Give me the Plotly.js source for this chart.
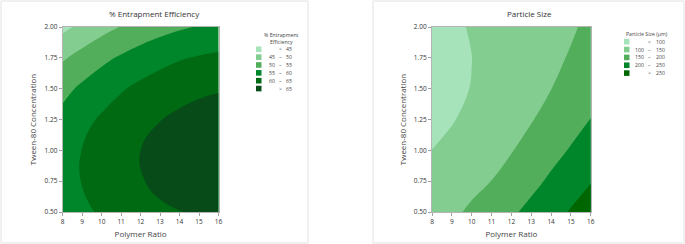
<!DOCTYPE html>
<html>
<head>
<meta charset="utf-8">
<script src="https://cdn.plot.ly/plotly-3.0.1.min.js"></script>
<style>
html,body{margin:0;padding:0;background:#fff;}
#chart{width:685px;height:244px;}
</style>
</head>
<body>
<div id="chart"></div>
<script>
// ---- data ----
const polymerRatio = [8, 9, 10, 11, 12, 13, 14, 15, 16];
const tween80Conc = [0.5, 0.75, 1.0, 1.25, 1.5, 1.75, 2.0];

// % Entrapment Efficiency, rows = tween80Conc, cols = polymerRatio
const entrapmentEfficiency = [
  [56.9, 58.9, 60.7, 62.2, 63.4, 64.3, 64.9, 65.3, 65.5],
  [58.1, 60.2, 62.0, 63.6, 64.7, 66.0, 66.8, 67.4, 67.7],
  [58.0, 60.1, 62.0, 63.6, 65.0, 66.1, 67.0, 67.6, 68.0],
  [56.5, 58.7, 60.6, 62.3, 63.7, 64.9, 65.9, 66.6, 67.0],
  [53.6, 55.9, 57.9, 59.6, 61.1, 62.4, 63.4, 64.2, 64.7],
  [49.4, 51.7, 53.8, 55.6, 57.2, 58.5, 59.6, 60.4, 61.0],
  [43.8, 46.2, 48.4, 50.2, 51.9, 53.3, 54.4, 55.3, 55.9]
];

// Particle Size (µm), rows = tween80Conc, cols = polymerRatio
const particleSize = [
  [126.0, 141.2, 157.4, 174.7, 193.0, 212.3, 232.6, 253.9, 276.2],
  [111.2, 124.7, 138.0, 150.5, 168.0, 188.0, 207.3, 226.9, 247.5],
  [100.2, 111.7, 123.5, 135.5, 148.0, 165.5, 185.7, 203.5, 222.4],
  [ 92.4,  97.0, 112.0, 124.5, 136.0, 147.5, 165.5, 183.7, 200.9],
  [ 88.4,  96.6, 100.5, 114.0, 125.5, 137.5, 149.5, 167.5, 182.9],
  [ 88.0,  94.5,  99.8, 110.0, 120.0, 130.5, 142.0, 153.0, 168.5],
  [ 91.1,  95.9, 101.7, 108.5, 116.3, 125.1, 135.0, 145.8, 157.7]
];

const eeLevels = [45, 50, 55, 60, 65];
const psLevels = [100, 150, 200, 250];
const eeColors = ['#a6e3bb', '#82cd8f', '#52ae5b', '#00862a', '#006a12', '#064b18'];
const psColors = ['#a6e3bb', '#82cd8f', '#52ae5b', '#00862a', '#006600'];

const xTickVals = [8, 9, 10, 11, 12, 13, 14, 15, 16];
const yTickVals = [0.5, 0.75, 1.0, 1.25, 1.5, 1.75, 2.0];
const yTickText = ['0.50', '0.75', '1.00', '1.25', '1.50', '1.75', '2.00'];

const eeTitle = '% Entrapment Efficiency';
const psTitle = 'Particle Size';
const eeLegendTitle = ['% Entrapment', 'Efficiency'];
const psLegendTitle = ['Particle Size (µm)'];
const xTitle = 'Polymer Ratio';
const yTitle = 'Tween-80 Concentration';

// ---- layout helpers ----
const W = 685, H = 244;
const px = v => v / W;
const py = v => 1 - v / H;
const FONT = '"Open Sans", "Noto Sans", sans-serif';

function stepScale(colors) {
  const n = colors.length - 1;
  return colors.map((c, i) => [i / n, c]);
}

function contourTrace(z, levels, colors, xa, ya) {
  return {
    type: 'contour', x: polymerRatio, y: tween80Conc, z: z,
    xaxis: xa, yaxis: ya,
    autocontour: false,
    contours: {start: levels[0], end: levels[levels.length - 1],
               size: levels[1] - levels[0], coloring: 'fill', showlines: false},
    line: {width: 0, smoothing: 1.3},
    colorscale: stepScale(colors),
    showscale: false, hoverinfo: 'skip'
  };
}

function axisX(domain, anchor) {
  return {
    domain: domain, anchor: anchor, range: [8, 16],
    tickvals: xTickVals, ticks: 'outside', ticklen: 3, tickcolor: '#a0a0a0',
    tickfont: {family: FONT, size: 6.5, color: '#333'},
    showline: true, linecolor: '#b4b4b4', linewidth: 1, mirror: true,
    showgrid: false, zeroline: false,
    title: {text: xTitle, font: {family: FONT, size: 8, color: '#444'}, standoff: 6}
  };
}
function axisY(domain, anchor) {
  return {
    domain: domain, anchor: anchor, range: [0.5, 2.0],
    tickvals: yTickVals, ticktext: yTickText, ticks: 'outside', ticklen: 3, tickcolor: '#a0a0a0',
    tickfont: {family: FONT, size: 6.5, color: '#333'},
    showline: true, linecolor: '#b4b4b4', linewidth: 1, mirror: true,
    showgrid: false, zeroline: false,
    title: {text: yTitle, font: {family: FONT, size: 8, color: '#444'}, standoff: 6}
  };
}

const shapes = [];
const annotations = [];

function panelFrame(x0, x1) {
  shapes.push({type: 'rect', xref: 'paper', yref: 'paper',
    x0: px(x0), x1: px(x1), y0: py(243), y1: py(1),
    line: {color: '#e2e2e2', width: 1}, fillcolor: 'rgba(0,0,0,0)', layer: 'below'});
}

function addTitle(text, cx) {
  annotations.push({xref: 'paper', yref: 'paper', x: px(cx), y: py(13), text: text,
    showarrow: false, xanchor: 'center', yanchor: 'middle',
    font: {family: FONT, size: 8, color: '#333'}});
}

function addLegend(titleLines, levels, colors, swX, titleCx, titleY, firstY, step, colL, colM, colR) {
  const f = {family: FONT, size: 5.2, color: '#444'};
  titleLines.forEach((t, i) => {
    annotations.push({xref: 'paper', yref: 'paper', x: px(titleCx), y: py(titleY + i * 7.5), text: t,
      showarrow: false, xanchor: 'center', yanchor: 'middle', borderpad: 0, font: f});
  });
  const n = colors.length;
  for (let i = 0; i < n; i++) {
    const cy = firstY + i * step;
    shapes.push({type: 'rect', xref: 'paper', yref: 'paper',
      x0: px(swX), x1: px(swX + 5.5), y0: py(cy + 2.8), y1: py(cy - 2.8),
      line: {width: 0}, fillcolor: colors[i]});
    let left = '', mid, right;
    if (i === 0) { mid = '<'; right = String(levels[0]); }
    else if (i === n - 1) { mid = '>'; right = String(levels[n - 2]); }
    else { left = String(levels[i - 1]); mid = '–'; right = String(levels[i]); }
    if (left) annotations.push({xref: 'paper', yref: 'paper', x: px(colL), y: py(cy), text: left,
      showarrow: false, xanchor: 'right', yanchor: 'middle', borderpad: 0, font: f});
    annotations.push({xref: 'paper', yref: 'paper', x: px(colM), y: py(cy), text: mid,
      showarrow: false, xanchor: 'center', yanchor: 'middle', borderpad: 0, font: f});
    annotations.push({xref: 'paper', yref: 'paper', x: px(colR), y: py(cy), text: right,
      showarrow: false, xanchor: 'left', yanchor: 'middle', borderpad: 0, font: f});
  }
}

panelFrame(1, 308);
panelFrame(373, 684);
addTitle(eeTitle, 154);
addTitle(psTitle, 529);
addLegend(eeLegendTitle, eeLevels, eeColors, 256, 281, 34.5, 49.3, 7.85, 276, 280, 284.5);
addLegend(psLegendTitle, psLevels, psColors, 624, 647, 34, 41.7, 7.85, 645, 649.5, 655);

const data = [
  contourTrace(entrapmentEfficiency, eeLevels, eeColors, 'x', 'y'),
  contourTrace(particleSize, psLevels, psColors, 'x2', 'y2')
];

const yDom = [py(212), py(27)];
const layout = {
  width: W, height: H,
  margin: {l: 0, r: 0, t: 0, b: 0},
  paper_bgcolor: '#fff', plot_bgcolor: '#fff',
  showlegend: false,
  xaxis: axisX([px(62.7), px(218.5)], 'y'),
  yaxis: axisY(yDom, 'x'),
  xaxis2: axisX([px(432), px(590.8)], 'y2'),
  yaxis2: axisY(yDom, 'x2'),
  shapes: shapes,
  annotations: annotations
};

Plotly.newPlot('chart', data, layout, {staticPlot: true, displayModeBar: false});
</script>
</body>
</html>
